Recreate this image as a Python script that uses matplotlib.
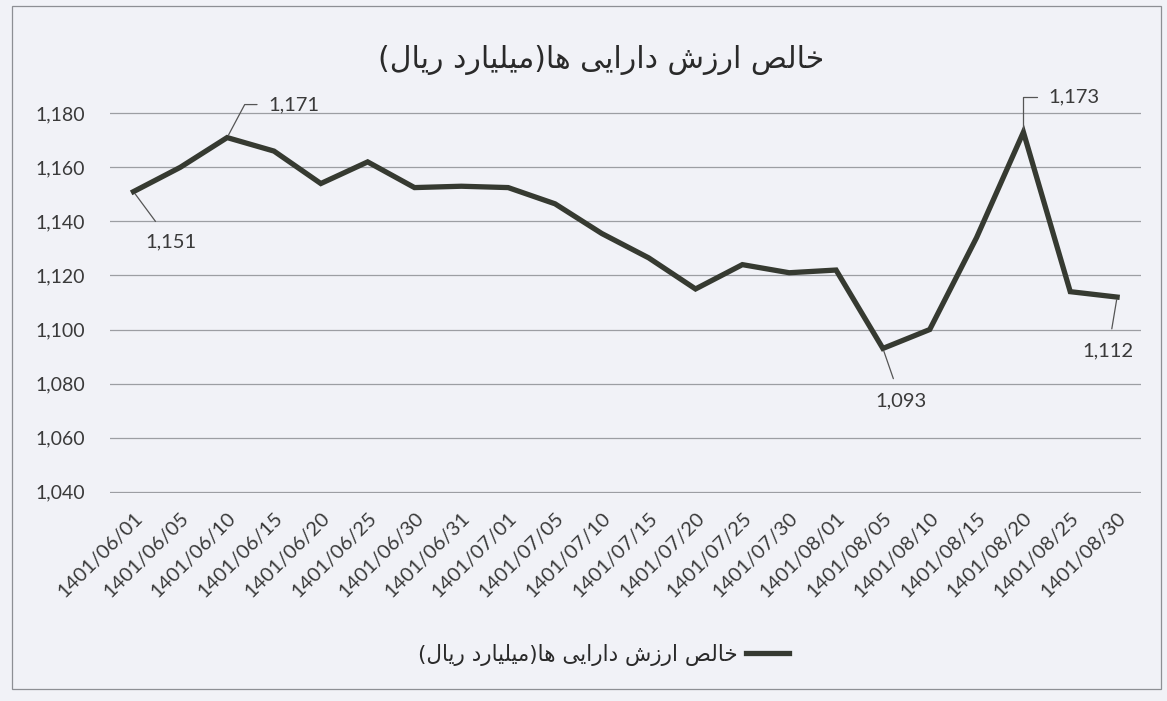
import matplotlib
matplotlib.use("Agg")
import matplotlib.pyplot as plt
from matplotlib.patches import Rectangle

# ---------------- data ----------------
dates = ["1401/06/01", "1401/06/05", "1401/06/10", "1401/06/15", "1401/06/20",
         "1401/06/25", "1401/06/30", "1401/06/31", "1401/07/01", "1401/07/05",
         "1401/07/10", "1401/07/15", "1401/07/20", "1401/07/25", "1401/07/30",
         "1401/08/01", "1401/08/05", "1401/08/10", "1401/08/15", "1401/08/20",
         "1401/08/25", "1401/08/30"]
nav_values = [1151, 1160, 1171, 1166, 1154, 1162, 1152.5, 1153, 1152.5, 1146.5,
              1135.5, 1126.5, 1115, 1124, 1121, 1122, 1093, 1100, 1134, 1173,
              1114, 1112]
y_ticks = [1040, 1060, 1080, 1100, 1120, 1140, 1160, 1180]
labelled_idx = [0, 2, 16, 19, 21]
title_text = "خالص ارزش دارایی ها(میلیارد ریال)"

# ---------------- minimal Arabic/Persian shaping ----------------
FORMS = {  # isolated, final, initial, medial
    "ا": (0xFE8D, 0xFE8E, None, None),
    "د": (0xFEA9, 0xFEAA, None, None),
    "ر": (0xFEAD, 0xFEAE, None, None),
    "ز": (0xFEAF, 0xFEB0, None, None),
    "خ": (0xFEA5, 0xFEA6, 0xFEA7, 0xFEA8),
    "ل": (0xFEDD, 0xFEDE, 0xFEDF, 0xFEE0),
    "ص": (0xFEB9, 0xFEBA, 0xFEBB, 0xFEBC),
    "ش": (0xFEB5, 0xFEB6, 0xFEB7, 0xFEB8),
    "ه": (0xFEE9, 0xFEEA, 0xFEEB, 0xFEEC),
    "م": (0xFEE1, 0xFEE2, 0xFEE3, 0xFEE4),
    "ی": (0xFBFC, 0xFBFD, 0xFBFE, 0xFBFF),
}


def shape_rtl(s):
    out = []
    n = len(s)
    for i, ch in enumerate(s):
        if ch not in FORMS:
            out.append(ch)
            continue
        f = FORMS[ch]
        prev = s[i - 1] if i > 0 else None
        nxt = s[i + 1] if i < n - 1 else None
        jp = prev in FORMS and FORMS[prev][2] is not None
        jn = f[2] is not None and nxt in FORMS
        if jp and jn:
            code = f[3]
        elif jp:
            code = f[1]
        elif jn:
            code = f[2]
        else:
            code = f[0]
        out.append(chr(code))
    vis = "".join(reversed(out))
    return vis.translate(str.maketrans("()", ")("))


shaped_title = shape_rtl(title_text)

# ---------------- figure ----------------
BG = "#f1f2f7"
LINE = "#363a31"
GRID = "#9c9ea3"
TXT = "#3a3a3a"
NUM_FONT = ["Lato", "DejaVu Sans"]
AR_FONT = ["DejaVu Sans"]

fig = plt.figure(figsize=(11.67, 7.01), dpi=100, facecolor=BG)
ax = fig.add_axes([0.0943, 0.297, 0.883, 0.543], facecolor=BG)

# chart border
fig.patches.append(Rectangle((0.010, 0.017), 0.985, 0.975, transform=fig.transFigure,
                             fill=False, edgecolor="#8d8f94", linewidth=0.9))

x = list(range(len(dates)))
ax.plot(x, nav_values, color=LINE, linewidth=3.8, solid_joinstyle="miter",
        label=shaped_title, zorder=3)

ax.set_xlim(-0.5, len(dates) - 0.5)
ax.set_ylim(y_ticks[0] - 0.4, y_ticks[-1] + 0.4)
ax.set_yticks(y_ticks)
ax.set_yticklabels([f"{v:,}" for v in y_ticks], fontfamily=NUM_FONT,
                   fontsize=14, color=TXT)
ax.set_xticks(x)
ax.set_xticklabels(dates, rotation=45, ha="right", rotation_mode="anchor",
                   fontfamily=NUM_FONT, fontsize=14.5, color=TXT)
ax.tick_params(axis="both", length=0)
ax.tick_params(axis="y", pad=18)
ax.tick_params(axis="x", pad=12)
ax.grid(axis="y", color=GRID, linewidth=0.9)
ax.set_axisbelow(True)
for sp in ax.spines.values():
    sp.set_visible(False)

# data labels with leader lines
label_offsets = {0: (37, -50), 2: (41, 33), 16: (18, -52), 19: (25, 35), 21: (-9, -54)}
for i in labelled_idx:
    dx, dy = label_offsets[i]
    txt = f"{round(nav_values[i]):,}"
    if i in (2, 19):
        conn = "angle,angleA=180,angleB=62,rad=0" if i == 2 else "angle,angleA=180,angleB=90,rad=0"
        ax.annotate(txt, xy=(i, nav_values[i]), xytext=(dx, dy),
                    textcoords="offset pixels", ha="left", va="center",
                    fontfamily=NUM_FONT, fontsize=14.5, color=TXT,
                    arrowprops=dict(arrowstyle="-", color="#555555", lw=0.9,
                                    connectionstyle=conn, shrinkA=6, shrinkB=2))
    else:
        ax.annotate(txt, xy=(i, nav_values[i]), xytext=(dx, dy),
                    textcoords="offset pixels", ha="center", va="center",
                    fontfamily=NUM_FONT, fontsize=14.5, color=TXT,
                    arrowprops=dict(arrowstyle="-", color="#555555", lw=0.9,
                                    shrinkA=8, shrinkB=2))

fig.text(0.515, 0.914, shaped_title, ha="center", va="center",
         fontfamily=AR_FONT, fontsize=21.5, color="#2a2a2a")

leg = fig.legend(loc="center", bbox_to_anchor=(0.517, 0.066), frameon=False,
                 markerfirst=False, handlelength=2.0, handletextpad=0.4,
                 prop={"family": AR_FONT, "size": 15.5})
for t in leg.get_texts():
    t.set_color("#2a2a2a")

fig.savefig("out.png", dpi=100, facecolor=BG)
